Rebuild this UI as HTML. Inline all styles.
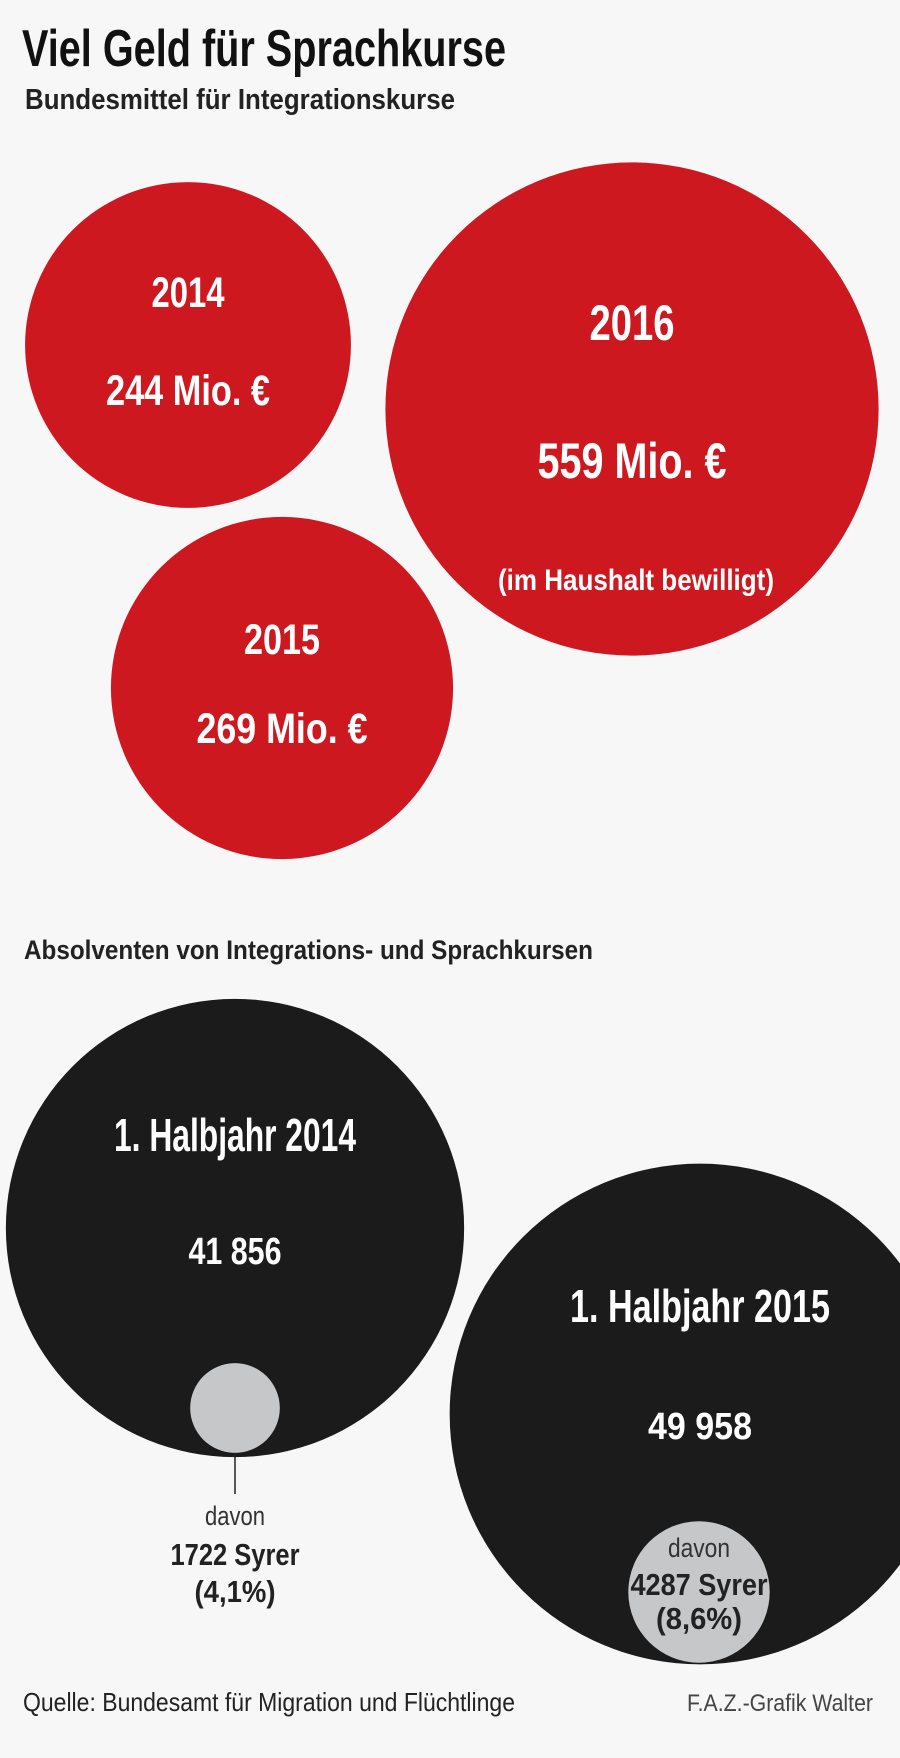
<!DOCTYPE html>
<html><head><meta charset="utf-8"><style>
html,body{margin:0;padding:0;background:#f7f7f7;}
svg{display:block;font-family:"Liberation Sans",sans-serif;}
</style></head><body>
<svg id="chart" width="900" height="1758" viewBox="0 0 900 1758" xmlns="http://www.w3.org/2000/svg">
<rect x="0" y="0" width="900" height="1758" fill="#f7f7f7"/>
<text x="22" y="66" font-size="52" font-weight="bold" fill="#111" textLength="484" lengthAdjust="spacingAndGlyphs">Viel Geld für Sprachkurse</text>
<text x="25" y="109" font-size="29" font-weight="bold" fill="#222" textLength="430" lengthAdjust="spacingAndGlyphs">Bundesmittel für Integrationskurse</text>
<text x="24" y="959" font-size="27" font-weight="bold" fill="#222" textLength="569" lengthAdjust="spacingAndGlyphs">Absolventen von Integrations- und Sprachkursen</text>
<g id="red"></g>
<g id="black"></g>
<text x="23" y="1711" font-size="26" fill="#222" textLength="492" lengthAdjust="spacingAndGlyphs">Quelle: Bundesamt für Migration und Flüchtlinge</text>
<text x="687" y="1711" font-size="24" fill="#444" textLength="186" lengthAdjust="spacingAndGlyphs">F.A.Z.-Grafik Walter</text>
</svg>
<script>
// Chart 1 data
const fundYears = ["2014", "2015", "2016"];
const fundValues = [244, 269, 559];
const fundLabels = ["244 Mio. €", "269 Mio. €", "559 Mio. €"];
// Chart 2 data
const gradPeriods = ["1. Halbjahr 2014", "1. Halbjahr 2015"];
const gradValues = [41856, 49958];
const gradLabels = ["41 856", "49 958"];
const syrValues = [1722, 4287];
const syrLabels = ["1722 Syrer", "4287 Syrer"];
const syrShares = ["(4,1%)", "(8,6%)"];

const NS = "http://www.w3.org/2000/svg";
function rRed(v){ return 10.43 * Math.sqrt(v); }
function rBlack(v){ return 1.12 * Math.sqrt(v); }
function rGray(v){ return 1.08 * Math.sqrt(v); }
function mk(tag, attrs, parent, txt){
  const e = document.createElementNS(NS, tag);
  for (const k in attrs) e.setAttribute(k, attrs[k]);
  if (txt !== undefined) e.textContent = txt;
  parent.appendChild(e); return e;
}
// layout (not data)
const redLayout = [
  {cx:188, cy:345, yb:307, vb:405, yw:73, vw:164, fs:43},
  {cx:282, cy:688, yb:654, vb:743, yw:76, vw:171, fs:43},
  {cx:632, cy:409, yb:340, vb:478, yw:85, vw:189, fs:50}
];
const gR = document.getElementById('red');
fundValues.forEach((v,i)=>{
  const L = redLayout[i];
  const c = mk('circle',{cx:L.cx, cy:L.cy, r:rRed(v), fill:'#cd1820'}, gR);
  
  
  const t1 = mk('text',{x:L.cx, y:L.yb, 'text-anchor':'middle', 'font-size':L.fs, 'font-weight':'bold', fill:'#fff', textLength:L.yw, lengthAdjust:'spacingAndGlyphs'}, gR, fundYears[i]);
  
  
  const t2 = mk('text',{x:L.cx, y:L.vb, 'text-anchor':'middle', 'font-size':L.fs, 'font-weight':'bold', fill:'#fff', textLength:L.vw, lengthAdjust:'spacingAndGlyphs'}, gR, fundLabels[i]);
  
  
});
const note = mk('text',{x:636, y:590, 'text-anchor':'middle', 'font-size':30, 'font-weight':'bold', fill:'#fff', textLength:276, lengthAdjust:'spacingAndGlyphs'}, gR, '(im Haushalt bewilligt)');



const blackLayout = [
  {cx:235, cy:1228, pb:1151, pw:242, vb:1264, vw:93, scx:235, scy:1408,
   db:1525, sb:1565, qb:1602, dw:60, sw:129, qw:81, dc:'#333', outside:true},
  {cx:700, cy:1414, pb:1322, pw:260, vb:1439, vw:104, scx:699, scy:1592,
   db:1557, sb:1595, qb:1629, dw:62, sw:137, qw:86, dc:'#333', outside:false}
];
const gB = document.getElementById('black');
gradValues.forEach((v,i)=>{
  const L = blackLayout[i];
  const c = mk('circle',{cx:L.cx, cy:L.cy, r:rBlack(v), fill:'#1b1b1b'}, gB);
  
  
  const t1 = mk('text',{x:L.cx, y:L.pb, 'text-anchor':'middle', 'font-size':46, 'font-weight':'bold', fill:'#fff', textLength:L.pw, lengthAdjust:'spacingAndGlyphs'}, gB, gradPeriods[i]);
  
  
  const t2 = mk('text',{x:L.cx, y:L.vb, 'text-anchor':'middle', 'font-size':38, 'font-weight':'bold', fill:'#fff', textLength:L.vw, lengthAdjust:'spacingAndGlyphs'}, gB, gradLabels[i]);
  
  
  const rs = rGray(syrValues[i]);
  const s = mk('circle',{cx:L.scx, cy:L.scy, r:rs, fill:'#c5c7c9'}, gB);
  
  
  if (L.outside){
    const ln = mk('line',{x1:L.scx, y1:L.scy+rs, x2:L.scx, y2:1494, stroke:'#222', 'stroke-width':1.5}, gB);
    
    
  }
  const d = mk('text',{x:L.scx, y:L.db, 'text-anchor':'middle', 'font-size':27, fill:L.dc, textLength:L.dw, lengthAdjust:'spacingAndGlyphs'}, gB, 'davon');
  
  
  const sl = mk('text',{x:L.scx, y:L.sb, 'text-anchor':'middle', 'font-size':31, 'font-weight':'bold', fill:'#222', textLength:L.sw, lengthAdjust:'spacingAndGlyphs'}, gB, syrLabels[i]);
  
  
  const sq = mk('text',{x:L.scx, y:L.qb, 'text-anchor':'middle', 'font-size':31, 'font-weight':'bold', fill:'#222', textLength:L.qw, lengthAdjust:'spacingAndGlyphs'}, gB, syrShares[i]);
  
  
});
</script>
</body></html>
